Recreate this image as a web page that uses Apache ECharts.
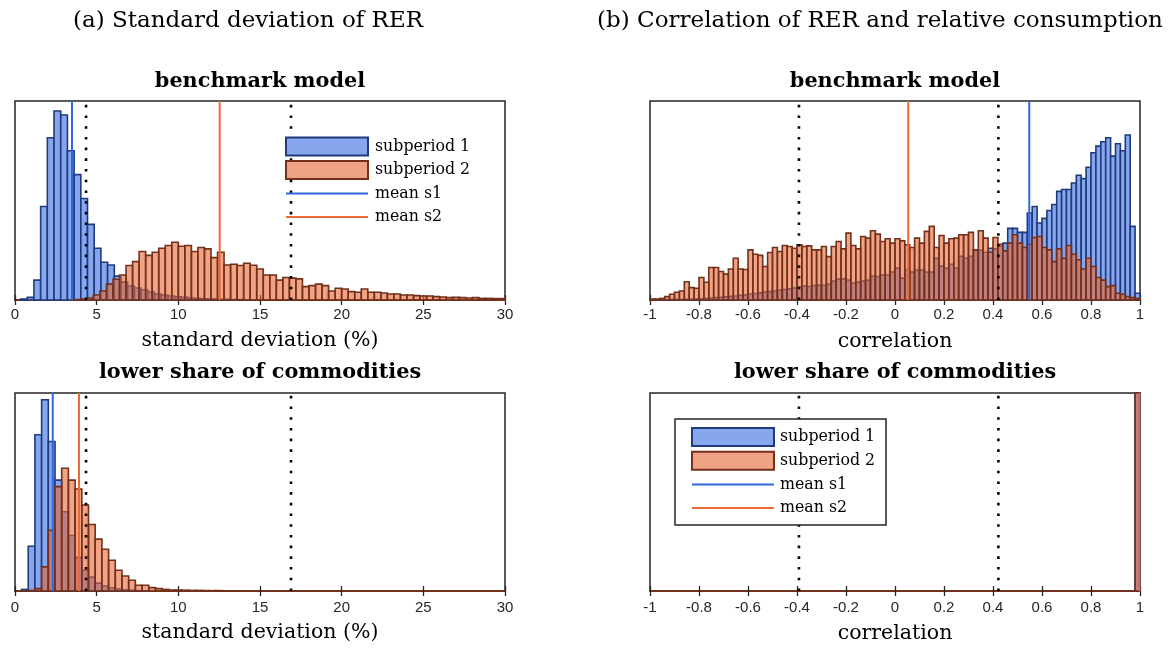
<!DOCTYPE html>
<html><head><meta charset="utf-8">
<script src="https://cdn.jsdelivr.net/npm/echarts@6/dist/echarts.min.js"></script>
<style>html,body{margin:0;padding:0;background:#fff}#c{width:1174px;height:648px}</style>
</head><body><div id="c"></div>
<script>
// ---------------- DATA ----------------
// (a) standard deviation of RER, benchmark model
const sdBenchS1Start = 0.34, sdBenchS1Width = 0.41;
const sdBenchS1 = [0.5, 1.3, 10, 47, 81.5, 95, 93, 75, 63, 51, 38, 26, 19, 17.6, 12, 9, 7, 6, 5, 4, 3, 2.5, 2, 1.6, 1.3, 1, 0.8, 0.6, 0.5, 0.4, 0.3, 0.2, 0.2, 0.1];
const sdBenchS2Start = 3.6, sdBenchS2Width = 0.4;
const sdBenchS2 = [0.2, 0.5, 1, 2.5, 4.5, 8, 10.4, 12.6, 17.3, 19.3,
  24.4, 22.4, 24, 26, 27.4, 29, 27, 27.4, 24.4, 26.4,
  25.7, 21.3, 24, 17.6, 18, 17.3, 18.5, 17.5, 15.6, 12.6,
  12.6, 10, 11.3, 11, 10.6, 6.7, 7.2, 8, 7.2, 4.5,
  5.9, 5.5, 4.2, 3.9, 5.5, 3.9, 3.9, 3.5, 3, 3,
  2.5, 2.5, 2.2, 2, 2, 1.7, 1.5, 1.2, 1.3, 1.2,
  1, 1.2, 0.8, 0.8, 0.7, 0.7];
const sdBenchMeans = [3.49, 12.53];

// (a) lower share of commodities
const sdLowerStart = 0.40, sdLowerWidth = 0.41;
const sdLowerS1 = [0.8, 22.6, 78.9, 96.6, 75.5, 56, 40, 28, 17, 10.5, 7, 4, 2.5, 1.5, 1, 0.6, 0.4, 0.2, 0.1];
const sdLowerS2 = [0, 0.3, 1.2, 12.2, 30.7, 52.7, 62, 56, 51.5, 43.4, 33.6, 26.2, 21.1, 15.5, 10.5, 7.6, 5.4, 2.9, 2.9, 1.7, 1.2, 0.8, 0.5, 0.5, 0.4, 0.3, 0.3, 0.2, 0.2, 0.2, 0.1, 0.1];
const sdLowerMeans = [2.31, 3.92];
const sdThresholds = [4.35, 16.9];

// (b) correlation, benchmark model (bins of 0.02 from -1)
const corrStart = -1, corrWidth = 0.02;
const corrBenchS1 = [0.1, 0.1, 0.2, 0.2, 0.2, 0.3, 0.3, 0.4, 0.4, 0.5,
  0.6, 0.8, 1, 1.2, 1.4, 1.6, 1.8, 2, 2.3, 2.6,
  3, 3.3, 3.6, 4, 4.2, 4.5, 5, 5.3, 5.6, 6,
  6.5, 7, 6.8, 7.2, 7.5, 7.4, 8, 9.5, 10.5, 10.6,
  10, 8.5, 9, 9.5, 10, 12, 11.8, 12.5, 12.6, 14,
  16, 11, 15, 14, 15, 15, 14, 14, 21, 17,
  16, 18, 16, 22, 21, 22, 25, 25, 24, 26,
  25.7, 27, 28.6, 36, 36, 34, 34, 43.7, 47, 38.7,
  41, 45, 48, 54.6, 55.5, 55.5, 58.8, 62.7, 61, 66.7,
  74, 77.3, 79.5, 81.5, 72.3, 78.5, 75, 82.9, 37, 3.4];
const corrBenchS2 = [0.5, 0.5, 0.8, 1.7, 2.9, 3.9, 4.5, 9.2, 6.2, 5.9,
  11.3, 8.9, 16.3, 16.3, 14.3, 13, 15.6, 21, 15.6, 15.3,
  25.2, 23, 22.4, 16.8, 23.9, 26.4, 24.4, 27.4, 26.9, 26,
  27.7, 26.9, 27.2, 25.2, 25.2, 26.9, 21.8, 26.9, 29.4, 25.7,
  33.6, 27.4, 25.7, 31.9, 31.1, 34.8, 33.1, 29.4, 30.8, 28.6,
  30.8, 29.7, 27.7, 26.4, 31.1, 28.6, 34.5, 37, 26.4, 32.4,
  28.6, 30.8, 31.1, 32.8, 32.8, 34, 25.2, 34.8, 31.1, 24,
  31.4, 28, 24.7, 28.6, 32.8, 28.6, 26.4, 28, 31.4, 31.9,
  26.4, 25.2, 19.3, 25.7, 21, 27.4, 23, 20.2, 15.6, 21,
  16.8, 11.3, 10, 6.7, 7.2, 3.4, 2.9, 1.7, 1.2, 0.8];
const corrBenchMeans = [0.548, 0.054];

// (b) lower share of commodities: all mass in last bin
const corrLowerStart = 0.98;
const corrLowerS1 = [100];
const corrLowerS2 = [100];
const corrLowerMeans = [0.997, 0.997];
const corrThresholds = [-0.392, 0.422];

const sdAxis = { min: 0, max: 30, interval: 5 };
const corrAxis = { min: -1, max: 1, interval: 0.2 };

// ---------------- STYLE ----------------
const BLUE_FILL = '#86a6ee', BLUE_EDGE = '#1f3b7d';
const ORG_FILL = 'rgba(230,102,51,0.6)', ORG_EDGE = '#73301a';
const BLUE_MEAN = '#2f68e0', ORG_MEAN = '#ea6a38';
const SERIF = '"DejaVu Serif", serif';

function bins(start, width, counts) {
  return counts.map((c, i) => [start + i * width, start + (i + 1) * width, c]);
}
function histRender(fill, edge) {
  return function (params, api) {
    const p0 = api.coord([api.value(0), 0]);
    const p1 = api.coord([api.value(1), api.value(2)]);
    return {
      type: 'rect',
      shape: { x: p0[0], y: p1[1], width: p1[0] - p0[0], height: p0[1] - p1[1] },
      style: { fill: fill, stroke: edge, lineWidth: 1.6 }
    };
  };
}
function hist(gi, data, fill, edge, z) {
  return { type: 'custom', xAxisIndex: gi * 2, yAxisIndex: gi, data: data,
    renderItem: histRender(fill, edge), z: z, silent: true, animation: false };
}
function vline(gi, x, color, width, type) {
  return { type: 'line', xAxisIndex: gi * 2, yAxisIndex: gi, data: [[x, 0], [x, 100]],
    symbol: 'none', silent: true, animation: false, z: 6,
    lineStyle: { color: color, width: width, type: type, cap: 'butt' } };
}

const grids = [
  { left: 15, top: 101, width: 490, height: 199 },
  { left: 650, top: 101, width: 490, height: 199 },
  { left: 15, top: 393, width: 490, height: 198 },
  { left: 650, top: 393, width: 490, height: 198 }
].map(g => Object.assign(g, { show: true, borderColor: '#262626', borderWidth: 1.5, backgroundColor: '#fff' }));

const axDefs = [sdAxis, corrAxis, sdAxis, corrAxis];
const labelMargins = [7, 7, 9, 9];
const xAxes = [];
axDefs.forEach((a, gi) => {
  xAxes.push({ type: 'value', gridIndex: gi, min: a.min, max: a.max, interval: a.interval, position: 'bottom',
    axisLine: { show: true, onZero: false, lineStyle: { color: ORG_EDGE, width: 2 } },
    axisTick: { show: true, inside: true, length: 5, lineStyle: { color: '#262626', width: 1.3 } },
    axisLabel: { show: true, color: '#262626', fontFamily: '"Liberation Sans", Arial, sans-serif', fontSize: 15, margin: labelMargins[gi] },
    splitLine: { show: false } });
  xAxes.push({ type: 'value', gridIndex: gi, min: a.min, max: a.max, interval: a.interval, position: 'top',
    axisLine: { show: false },
    axisTick: { show: true, inside: true, length: 5, lineStyle: { color: '#262626', width: 1.3 } },
    axisLabel: { show: false }, splitLine: { show: false } });
});
const yAxes = [0, 1, 2, 3].map(gi => ({ type: 'value', gridIndex: gi, min: 0, max: 100, show: false }));

const series = [
  hist(0, bins(sdBenchS1Start, sdBenchS1Width, sdBenchS1), BLUE_FILL, BLUE_EDGE, 2),
  hist(0, bins(sdBenchS2Start, sdBenchS2Width, sdBenchS2), ORG_FILL, ORG_EDGE, 3),
  hist(1, bins(corrStart, corrWidth, corrBenchS1), BLUE_FILL, BLUE_EDGE, 2),
  hist(1, bins(corrStart, corrWidth, corrBenchS2), ORG_FILL, ORG_EDGE, 3),
  hist(2, bins(sdLowerStart, sdLowerWidth, sdLowerS1), BLUE_FILL, BLUE_EDGE, 2),
  hist(2, bins(sdLowerStart, sdLowerWidth, sdLowerS2), ORG_FILL, ORG_EDGE, 3),
  hist(3, bins(corrLowerStart, corrWidth, corrLowerS1), BLUE_FILL, BLUE_EDGE, 2),
  hist(3, bins(corrLowerStart, corrWidth, corrLowerS2), ORG_FILL, ORG_EDGE, 3)
];
const DOT = [2.6, 8.1];
[[0, sdThresholds, sdBenchMeans], [1, corrThresholds, corrBenchMeans],
 [2, sdThresholds, sdLowerMeans], [3, corrThresholds, corrLowerMeans]].forEach(([gi, th, m]) => {
  th.forEach(t => series.push(vline(gi, t, '#000', 2.6, DOT)));
  series.push(vline(gi, m[0], BLUE_MEAN, 2, 'solid'));
  series.push(vline(gi, m[1], ORG_MEAN, 2, 'solid'));
});

function txt(text, x, y, size, bold, align) {
  return { type: 'text', silent: true, z: 10, style: { text: text, x: x, y: y,
    align: align || 'center', verticalAlign: 'middle',
    font: (bold ? 'bold ' : '') + size + 'px ' + SERIF, fill: '#000' } };
}
function legendItems(x0, y0, rowGap, textX) {
  const out = [];
  const w = 82, h = 18;
  out.push({ type: 'rect', z: 10, silent: true, shape: { x: x0, y: y0 - h / 2, width: w, height: h },
    style: { fill: BLUE_FILL, stroke: BLUE_EDGE, lineWidth: 2 } });
  out.push({ type: 'rect', z: 10, silent: true, shape: { x: x0, y: y0 + rowGap - h / 2, width: w, height: h },
    style: { fill: '#f0a384', stroke: ORG_EDGE, lineWidth: 2 } });
  out.push({ type: 'line', z: 10, silent: true, shape: { x1: x0, y1: y0 + 2 * rowGap, x2: x0 + w, y2: y0 + 2 * rowGap },
    style: { stroke: BLUE_MEAN, lineWidth: 2 } });
  out.push({ type: 'line', z: 10, silent: true, shape: { x1: x0, y1: y0 + 3 * rowGap, x2: x0 + w, y2: y0 + 3 * rowGap },
    style: { stroke: ORG_MEAN, lineWidth: 2 } });
  ['subperiod 1', 'subperiod 2', 'mean s1', 'mean s2'].forEach((t, i) =>
    out.push(txt(t, textX, y0 + i * rowGap, 15.8, false, 'left')));
  return out;
}

const graphic = [
  txt('(a) Standard deviation of RER', 248, 21, 23, false),
  txt('(b) Correlation of RER and relative consumption', 880, 21, 23, false),
  txt('benchmark model', 260, 82, 20.8, true),
  txt('benchmark model', 895, 82, 20.8, true),
  txt('lower share of commodities', 260, 373, 20.8, true),
  txt('lower share of commodities', 895, 373, 20.8, true),
  txt('standard deviation (%)', 260, 341, 20.5, false),
  txt('correlation', 895, 342, 20.5, false),
  txt('standard deviation (%)', 260, 633, 20.5, false),
  txt('correlation', 895, 634, 20.5, false),
  { type: 'rect', z: 9, silent: true, shape: { x: 675, y: 419, width: 211, height: 106 },
    style: { fill: '#fff', stroke: '#262626', lineWidth: 1.5 } }
].concat(legendItems(286, 146.5, 23.5, 375), legendItems(692, 437, 23.7, 780));

const chart = echarts.init(document.getElementById('c'), null, { renderer: 'canvas' });
chart.setOption({
  animation: false,
  backgroundColor: '#fff',
  grid: grids,
  xAxis: xAxes,
  yAxis: yAxes,
  series: series,
  graphic: graphic
});
</script></body></html>
